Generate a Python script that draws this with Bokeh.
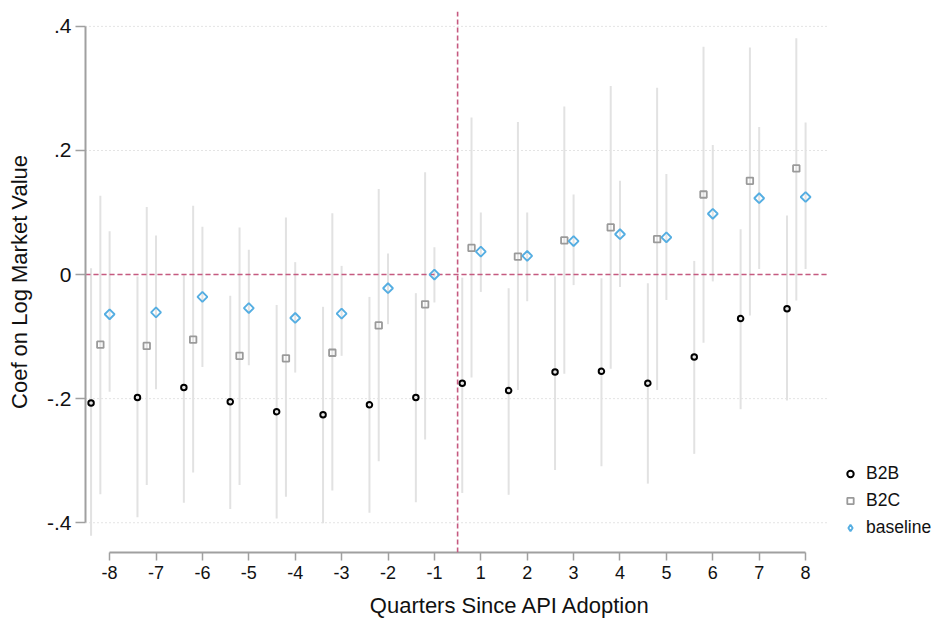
import numpy as np
from bokeh.plotting import figure
from bokeh.models import (Span, Legend, LegendItem, FixedTicker, Range1d)
from bokeh.embed import file_html
from bokeh.resources import INLINE

# ---------------- data ----------------
quarters = [-8, -7, -6, -5, -4, -3, -2, -1, 1, 2, 3, 4, 5, 6, 7, 8]

b2b    = [-0.207, -0.198, -0.182, -0.205, -0.221, -0.226, -0.210, -0.198,
          -0.175, -0.187, -0.157, -0.156, -0.175, -0.133, -0.071, -0.055]
b2b_lo = [-0.421, -0.391, -0.368, -0.378, -0.393, -0.401, -0.384, -0.367,
          -0.352, -0.355, -0.315, -0.309, -0.337, -0.289, -0.217, -0.203]
b2b_hi = [0.010, -0.003, 0.000, -0.034, -0.049, -0.052, -0.036, -0.030,
          -0.005, -0.022, -0.003, -0.006, -0.014, 0.022, 0.073, 0.095]

b2c    = [-0.113, -0.115, -0.105, -0.131, -0.135, -0.126, -0.082, -0.048,
          0.043, 0.029, 0.055, 0.076, 0.057, 0.129, 0.151, 0.171]
b2c_lo = [-0.354, -0.339, -0.319, -0.339, -0.358, -0.348, -0.301, -0.266,
          -0.166, -0.186, -0.160, -0.152, -0.186, -0.110, -0.066, -0.042]
b2c_hi = [0.127, 0.109, 0.111, 0.076, 0.092, 0.099, 0.138, 0.165,
          0.253, 0.246, 0.271, 0.304, 0.301, 0.367, 0.366, 0.381]

base    = [-0.064, -0.061, -0.036, -0.054, -0.070, -0.063, -0.022, 0.000,
           0.037, 0.030, 0.054, 0.065, 0.060, 0.098, 0.123, 0.125]
base_lo = [-0.189, -0.185, -0.149, -0.146, -0.158, -0.131, -0.080, -0.045,
           -0.028, -0.043, -0.017, -0.020, -0.041, -0.011, 0.009, 0.009]
base_hi = [0.070, 0.063, 0.077, 0.040, 0.020, 0.014, 0.034, 0.044,
           0.100, 0.100, 0.129, 0.151, 0.162, 0.209, 0.238, 0.245]

y_ticks = [-0.4, -0.2, 0.0, 0.2, 0.4]
y_tick_labels = ["-.4", "-.2", "0", ".2", ".4"]
series_names = ["B2B", "B2C", "baseline"]

# ---------------- layout ----------------
FONT = "Liberation Sans"
idx = np.arange(len(quarters))
off = {"B2B": -0.4, "B2C": -0.2, "baseline": 0.0}

# plot region (in x units) and the extra room on the right that holds the legend
X_LO, X_HI = -0.52, 15.47
X_END = 17.80

p = figure(frame_width=850, frame_height=541, output_backend="svg", toolbar_location=None,
           x_range=Range1d(X_LO, X_END), y_range=Range1d(-0.448, 0.424),
           min_border_left=85, min_border_top=11, min_border_right=0, min_border_bottom=59)
p.outline_line_color = None
p.background_fill_color = "white"
p.border_fill_color = "white"

# grid (limited to the plot region)
p.xgrid.grid_line_color = None
p.ygrid.grid_line_color = None
n_t = len(y_ticks)
p.segment(x0=[X_LO] * n_t, x1=[X_HI] * n_t, y0=y_ticks, y1=y_ticks,
          line_color="#c8c8c8", line_dash="1 3", line_width=1)

# error bars
bar_color = "#e2e2e2"
for name, lo, hi in [("B2B", b2b_lo, b2b_hi),
                     ("B2C", b2c_lo, b2c_hi),
                     ("baseline", base_lo, base_hi)]:
    xs = idx + off[name]
    p.segment(x0=xs, y0=lo, x1=xs, y1=hi, line_color=bar_color, line_width=2)

# reference lines
ref_color = "#c65a80"
p.segment(x0=[X_LO], x1=[X_HI], y0=[0], y1=[0], line_color=ref_color,
          line_dash="5 3", line_width=1.6)
split = (quarters.index(-1) + quarters.index(1)) / 2
p.add_layout(Span(location=split, dimension="height", line_color=ref_color,
                  line_dash="5 3", line_width=1.6))

# points
blue = "#55aee2"
r1 = p.scatter(idx + off["B2B"], b2b, marker="circle", size=5.5,
               line_color="black", line_width=2, fill_color=None)
r2 = p.scatter(idx + off["B2C"], b2c, marker="square", size=6.5,
               line_color="#9a9a9a", line_width=1.8, fill_color=None)
r3 = p.scatter(idx + off["baseline"], base, marker="square",
               angle=np.pi / 4, size=7,
               line_color=blue, line_width=1.9, fill_color=None)
# legend-only glyph (the legend does not rotate markers)
r3_key = p.scatter([np.nan], [np.nan], marker="diamond", size=13,
                   line_color=blue, line_width=1.9, fill_color=None)

# axes
ax_col = "#a0a0a0"
xa = p.xaxis[0]
xa.ticker = FixedTicker(ticks=list(idx))
xa.major_label_overrides = {int(i): str(q) for i, q in zip(idx, quarters)}
xa.bounds = (0, len(quarters) - 1)
xa.axis_label = "Quarters Since API Adoption"
ya = p.yaxis[0]
ya.ticker = FixedTicker(ticks=y_ticks)
ya.major_label_overrides = {t: l for t, l in zip(y_ticks, y_tick_labels)}
ya.bounds = (min(y_ticks), max(y_ticks))
ya.axis_label = "Coef on Log Market Value"

for ax in (xa, ya):
    ax.axis_line_color = ax_col
    ax.axis_line_width = 2
    ax.major_tick_line_color = ax_col
    ax.major_tick_line_width = 1.5
    ax.major_tick_in = 0
    ax.minor_tick_line_color = None
    ax.major_label_text_font = FONT
    ax.major_label_text_color = "#111111"
    ax.axis_label_text_font = FONT
    ax.axis_label_text_font_style = "normal"
    ax.axis_label_text_color = "#111111"
    ax.axis_label_text_font_size = "22px"

xa.major_tick_out = 8
xa.major_label_text_font_size = "18px"
xa.major_label_standoff = 5
xa.axis_label_standoff = 11
ya.major_tick_out = 10
ya.major_label_text_font_size = "21px"
ya.major_label_standoff = 4
ya.axis_label_standoff = 12
ya.major_label_orientation = "horizontal"

legend = Legend(items=[LegendItem(label=series_names[0], renderers=[r1]),
                       LegendItem(label=series_names[1], renderers=[r2]),
                       LegendItem(label=series_names[2], renderers=[r3_key])],
                location=(757, 12), orientation="vertical")
legend.label_text_font = FONT
legend.label_text_font_size = "17.5px"
legend.label_text_color = "#111111"
legend.glyph_width = 16
legend.glyph_height = 25
legend.label_height = 25
legend.label_standoff = 8
legend.spacing = 2
legend.padding = 0
legend.margin = 0
legend.border_line_color = None
legend.background_fill_alpha = 0
p.add_layout(legend, "center")

open("out.html", "w").write(file_html(p, INLINE))
